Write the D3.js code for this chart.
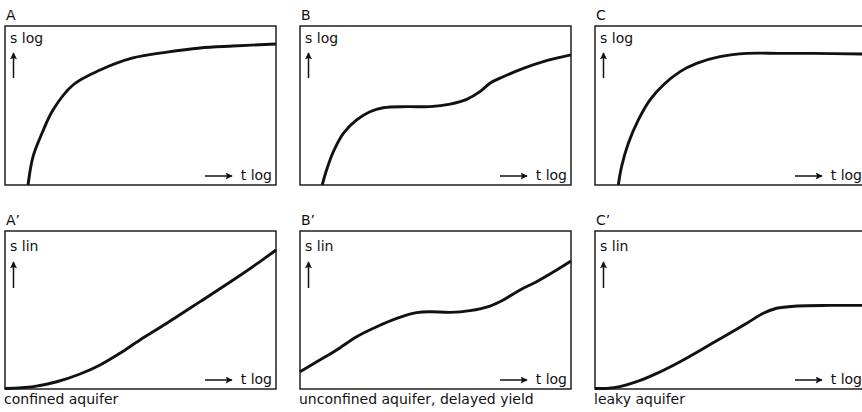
<!DOCTYPE html>
<html><head><meta charset="utf-8">
<script src="https://cdn.jsdelivr.net/npm/d3@7"></script>
<style>body{margin:0;background:#fff}svg{display:block}text{font-family:"DejaVu Sans",sans-serif;fill:#111}</style>
</head><body><svg id="c" width="862" height="412"></svg>
<script>
// ---- data (normalized: t log 0..100 across panel, s 0..100 up the panel) ----
const panelLabels = ["A", "B", "C", "A’", "B’", "C’"];
const yAxisLabels = ["s log", "s log", "s log", "s lin", "s lin", "s lin"];
const xAxisLabel = "t log";
const captions = ["confined aquifer", "unconfined aquifer, delayed yield", "leaky aquifer"];

const tA  = [8.5, 10.3, 13.7, 17.7, 25.1, 35.1, 47.2, 59.8, 72.0, 84.1, 100];
const sA  = [0, 17.6, 32.7, 47.2, 62.9, 72.3, 79.9, 83.6, 86.2, 87.4, 88.7];
const tB  = [8.2, 9.8, 12.3, 16.0, 20.9, 25.8, 30.7, 39.4, 48.0, 55.4, 61.5, 66.4, 70.1, 75.0, 82.4, 89.8, 100];
const sB  = [0, 9.4, 20.9, 32.5, 40.9, 46.1, 48.6, 49.3, 49.3, 50.9, 53.9, 58.7, 64.0, 68.1, 73.4, 77.6, 81.8];
const tC  = [8.6, 9.8, 12.3, 16.0, 20.3, 25.2, 31.4, 37.5, 46.1, 56.0, 68.3, 80.6, 98.4, 100];
const sC  = [0, 11.5, 26.2, 40.9, 53.5, 62.9, 71.3, 76.5, 80.7, 82.8, 82.8, 82.8, 82.4, 82.4];
const tA2 = [0, 10.5, 19.1, 27.7, 35.1, 42.4, 49.8, 59.7, 72.0, 84.2, 94.1, 100];
const sA2 = [0.3, 1.5, 4.6, 9.5, 15.2, 22.6, 31.0, 41.6, 55.3, 69.0, 80.6, 88.0];
const tB2 = [0, 6.2, 13.5, 20.9, 28.3, 35.7, 43.1, 48.0, 55.4, 62.7, 70.1, 75.0, 81.2, 87.3, 94.7, 100];
const sB2 = [10.9, 17.3, 24.7, 33.1, 39.4, 44.7, 48.3, 48.9, 48.5, 49.6, 52.5, 56.3, 62.7, 67.9, 75.3, 81.0];
const tC2 = [0, 4.3, 9.2, 15.4, 22.8, 31.4, 40.0, 48.6, 56.0, 62.1, 67.0, 74.4, 86.7, 98.4, 100];
const sC2 = [0.3, 0.4, 1.5, 4.6, 9.9, 17.3, 25.7, 34.2, 41.6, 47.9, 51.1, 52.5, 52.9, 52.9, 52.9];

const curvesT = [tA, tB, tC, tA2, tB2, tC2];
const curvesS = [sA, sB, sC, sA2, sB2, sC2];

// ---- layout ----
const colLeft = [5, 300, 595], panelW = 271;
const rowTop = [26, 231], panelH = [159, 158];

const svg = d3.select("#c");
const defs = svg.append("defs");
defs.append("marker").attr("id", "ah").attr("viewBox", "0 0 10 10").attr("refX", 9).attr("refY", 5)
  .attr("markerWidth", 11).attr("markerHeight", 7).attr("markerUnits", "userSpaceOnUse").attr("orient", "auto")
  .append("path").attr("d", "M0,0 L10,5 L0,10 L2,5 Z").attr("fill", "#111");

panelLabels.forEach((lab, i) => {
  const col = i % 3, row = Math.floor(i / 3);
  const L = colLeft[col], T = rowTop[row], H = panelH[row];
  const x = d3.scaleLinear().domain([0, 100]).range([L, L + panelW]);
  const y = d3.scaleLinear().domain([0, 100]).range([T + H, T]);
  const g = svg.append("g");
  g.append("rect").attr("x", L).attr("y", T).attr("width", panelW).attr("height", H)
    .attr("fill", "none").attr("stroke", "#111").attr("stroke-width", 1.4);
  g.append("text").attr("x", L + 1).attr("y", T - 6).attr("font-size", 14).text(lab);
  // y-axis label + arrow
  const yl = row === 0 ? 17 : 20;
  g.append("text").attr("x", L + 5).attr("y", T + yl).attr("font-size", 14).text(yAxisLabels[i]);
  const a0 = row === 0 ? 52 : 57, a1 = row === 0 ? 27 : 31;
  g.append("line").attr("x1", L + 8.5).attr("x2", L + 8.5).attr("y1", T + a0).attr("y2", T + a1)
    .attr("stroke", "#111").attr("stroke-width", 1.5).attr("marker-end", "url(#ah)");
  // x-axis label + arrow
  const R = L + panelW, B = T + H;
  g.append("text").attr("x", R - 4).attr("y", B - 5).attr("font-size", 14).attr("text-anchor", "end").text(xAxisLabel);
  g.append("line").attr("x1", R - 71).attr("x2", R - 44).attr("y1", B - 9).attr("y2", B - 9)
    .attr("stroke", "#111").attr("stroke-width", 1.5).attr("marker-end", "url(#ah)");
  // curve
  const pts = curvesT[i].map((t, k) => [t, curvesS[i][k]]);
  const line = d3.line().x(d => x(d[0])).y(d => y(d[1])).curve(d3.curveCatmullRom.alpha(0.5));
  g.append("path").attr("d", line(pts)).attr("fill", "none").attr("stroke", "#111")
    .attr("stroke-width", 2.9).attr("stroke-linejoin", "round");
  if (row === 1) {
    g.append("text").attr("x", L - 1).attr("y", B + 15).attr("font-size", 14).text(captions[col]);
  }
});
</script></body></html>
